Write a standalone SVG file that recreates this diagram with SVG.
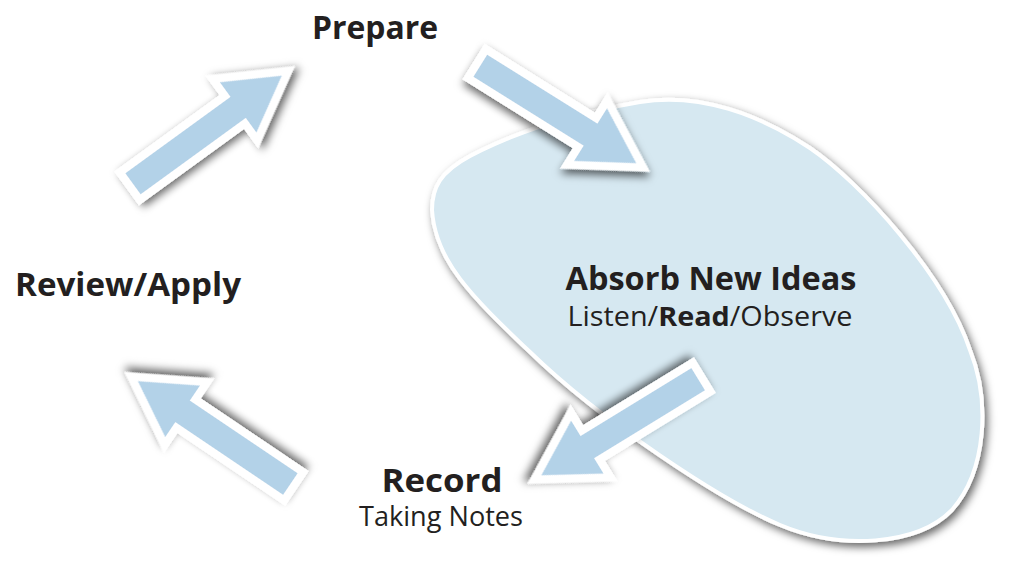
<svg xmlns="http://www.w3.org/2000/svg" xmlns:xlink="http://www.w3.org/1999/xlink" width="1035" height="567" viewBox="0 0 1035 567">
  <defs>
    <filter id="shadow" x="-30%" y="-30%" width="160%" height="160%">
      <feGaussianBlur in="SourceAlpha" stdDeviation="4.5" result="b"/>
      <feOffset in="b" dx="3" dy="4" result="o"/>
      <feFlood flood-color="#000000" flood-opacity="0.6"/>
      <feComposite in2="o" operator="in" result="s"/>
      <feMerge>
        <feMergeNode in="s"/>
        <feMergeNode in="SourceGraphic"/>
      </feMerge>
    </filter>
    <path id="arrow" d="M4,-17 L134,-17 L134,-38 L200,0 L134,38 L134,17 L4,17 Z"/>
  </defs>
  <style>
    .arrow { fill: #b3d2e8; stroke: #ffffff; stroke-width: 8; stroke-linejoin: miter; stroke-miterlimit: 10; filter: url(#shadow); }
    .blob { fill: #d6e8f1; stroke: #ffffff; stroke-width: 4; filter: url(#shadow); }
    .title { font-family: "Open Sans", "Noto Sans", "Liberation Sans", sans-serif; font-weight: 700; font-size: 32px; fill: #231f20; text-anchor: middle; }
    .sub { font-family: "Open Sans", "Noto Sans", "Liberation Sans", sans-serif; font-weight: 400; font-size: 27px; fill: #231f20; text-anchor: middle; }
    .b { font-weight: 700; }
  </style>
  <rect width="1035" height="567" fill="#ffffff"/>

  <g id="absorb">
    <path class="blob" d="M432,210 C432,188 440,172 470,156 C500,140 560,115 640,102 C700,92 760,115 810,148 C860,182 945,275 970,350 C990,400 987,470 952,510 C917,546 840,550 780,525 C720,500 600,420 530,352 C470,295 435,260 432,210 Z"/>
    <text class="title" x="711" y="290" textLength="291" lengthAdjust="spacingAndGlyphs">Absorb New Ideas</text>
    <text class="sub" x="710" y="326" textLength="285" lengthAdjust="spacingAndGlyphs">Listen/<tspan class="b">Read</tspan>/Observe</text>
  </g>

  <g id="prepare">
    <text class="title" x="375" y="39" textLength="126" lengthAdjust="spacingAndGlyphs">Prepare</text>
  </g>

  <g id="review">
    <text class="title" x="128" y="296" textLength="226" lengthAdjust="spacingAndGlyphs">Review/Apply</text>
  </g>

  <g id="record">
    <text class="title" x="442" y="492" textLength="121" lengthAdjust="spacingAndGlyphs">Record</text>
    <text class="sub" x="441" y="526" textLength="164" lengthAdjust="spacingAndGlyphs">Taking Notes</text>
  </g>

  <g id="connectors">
    <use xlink:href="#arrow" class="arrow" transform="translate(126.5,188.5) rotate(-36)"/>
    <use xlink:href="#arrow" class="arrow" transform="translate(473.5,61.5) rotate(32)"/>
    <use xlink:href="#arrow" class="arrow" transform="translate(705,375) rotate(148.5)"/>
    <use xlink:href="#arrow" class="arrow" transform="translate(297,488.5) rotate(-146)"/>
  </g>
</svg>
